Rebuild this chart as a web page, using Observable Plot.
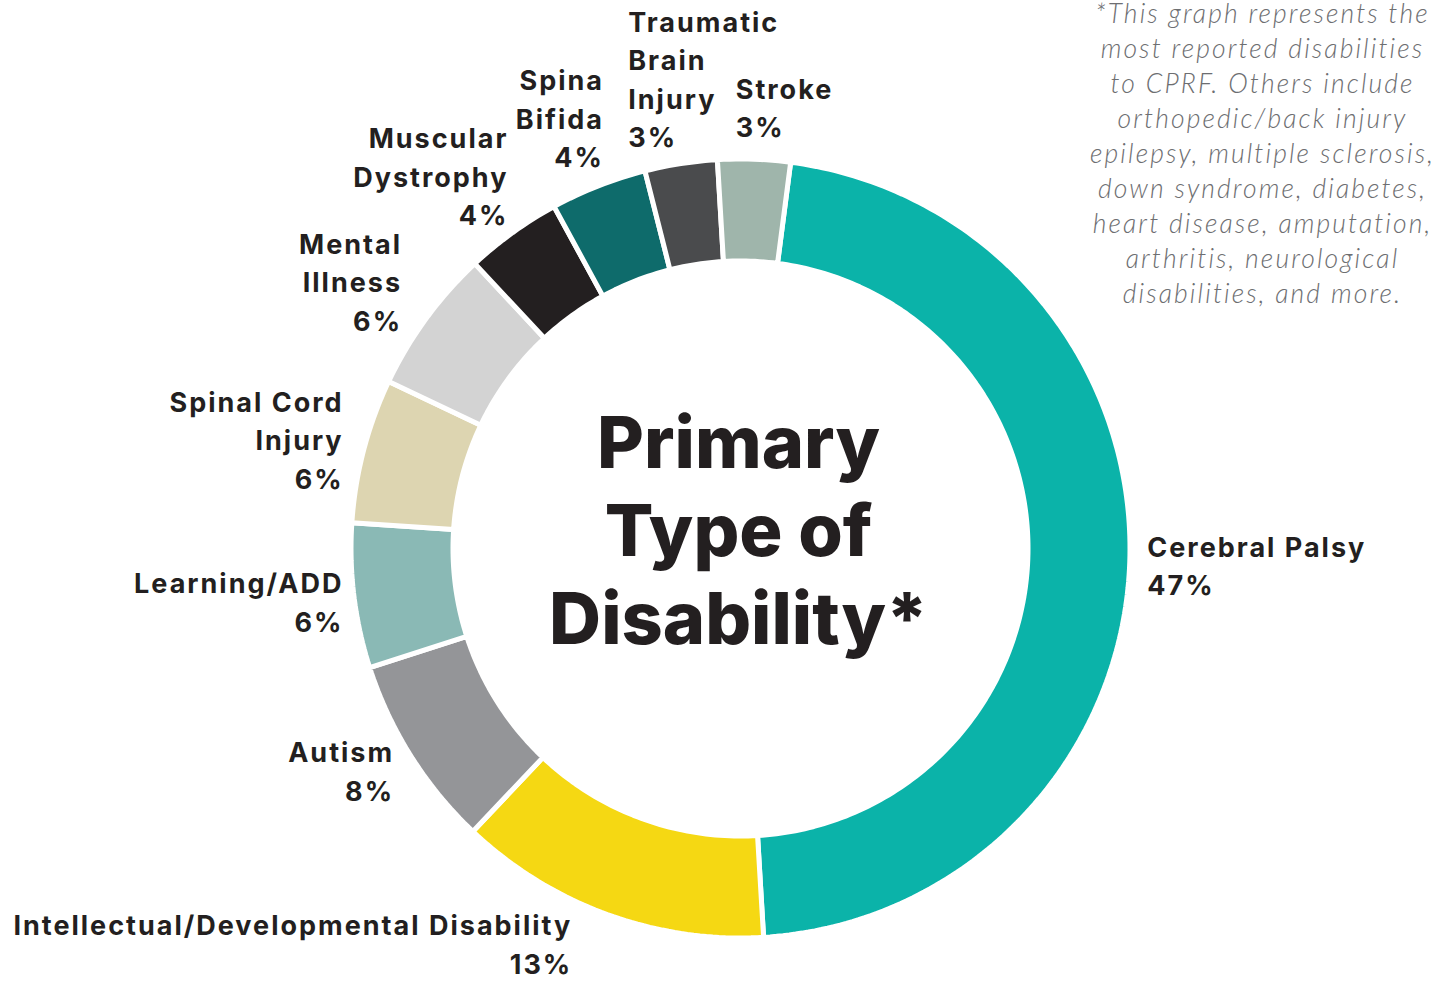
<!DOCTYPE html>
<html>
<head>
<meta charset="utf-8">
<script src="https://cdn.jsdelivr.net/npm/d3@7"></script>
<script src="https://cdn.jsdelivr.net/npm/@observablehq/plot@0.6"></script>
<style>
  html, body { margin: 0; padding: 0; background: #ffffff; }
  #chart svg { display: block; }
  #chart g[font-size="27"] { letter-spacing: 2px; }
  #chart g[font-size="26.5"] { letter-spacing: 2.1px; }
</style>
</head>
<body>
<div id="chart"></div>
<script>
// ---- data ----
const categories = ["Cerebral Palsy", "Intellectual/Developmental Disability", "Autism", "Learning/ADD", "Spinal Cord Injury", "Mental Illness", "Muscular Dystrophy", "Spina Bifida", "Traumatic Brain Injury", "Stroke"];
const labelLines = ["Cerebral Palsy", "Intellectual/Developmental Disability", "Autism", "Learning/ADD", "Spinal Cord\nInjury", "Mental\nIllness", "Muscular\nDystrophy", "Spina\nBifida", "Traumatic\nBrain\nInjury", "Stroke"];
const percents = [47, 13, 8, 6, 6, 6, 4, 4, 3, 3];
const colors = ["#0bb3a9", "#f5d813", "#949598", "#8ab9b5", "#ddd5b1", "#d3d3d3", "#231f20", "#0e6b6b", "#4a4b4d", "#9fb5ab"];
const titleText = "Primary\nType of\nDisability*";
const noteText = "*This graph represents the\nmost reported disabilities\nto CPRF. Others include\northopedic/back injury\nepilepsy, multiple sclerosis,\ndown syndrome, diabetes,\nheart disease, amputation,\narthritis, neurological\ndisabilities, and more.";

// ---- layout ----
const W = 1434, H = 982;
const CX = 740, CY = 548, R = 387;       // pixel centre and outer radius
const gap = 5;                            // white separator width
const rOuter = 1 + (gap / 2) / R;
const rInner = 290 / R - (gap / 2) / R;
const startAngle = 7.4 * Math.PI / 180;   // clockwise from 12 o'clock
const total = d3.sum(percents);

const slices = [];
const labels = [];
let acc = startAngle;
categories.forEach((cat, i) => {
  const a0 = acc, a1 = acc + percents[i] / total * 2 * Math.PI;
  acc = a1;
  const n = Math.max(8, Math.ceil((a1 - a0) * 60));
  for (let k = 0; k <= n; k++) {
    const a = a0 + (a1 - a0) * k / n;
    slices.push({cat, x: rOuter * Math.sin(a), y: rOuter * Math.cos(a)});
  }
  for (let k = n; k >= 0; k--) {
    const a = a0 + (a1 - a0) * k / n;
    slices.push({cat, x: rInner * Math.sin(a), y: rInner * Math.cos(a)});
  }
  const am = (a0 + a1) / 2, rl = 407 / R;
  labels.push({cat, x: rl * Math.sin(am), y: rl * Math.cos(am), text: labelLines[i] + "\n" + percents[i] + "%"});
});

// per-label placement nudges (pixels)
const place = {
  "Cerebral Palsy": {anchor: "start", dx: 0, dy: 1},
  "Intellectual/Developmental Disability": {anchor: "end", dx: -29, dy: 11},
  "Autism": {anchor: "end", dx: -2, dy: 4},
  "Learning/ADD": {anchor: "end", dx: 7, dy: 2},
  "Spinal Cord Injury": {anchor: "end", dx: -3, dy: -8},
  "Mental Illness": {anchor: "end", dx: -10, dy: -28},
  "Muscular Dystrophy": {anchor: "end", dx: 6, dy: -44},
  "Spina Bifida": {anchor: "end", dx: 12, dy: -53},
  "Traumatic Brain Injury": {anchor: "start", dx: -50, dy: -69},
  "Stroke": {anchor: "start", dx: -19, dy: -36}
};

const labelFont = "Inter, 'Open Sans', sans-serif";
const labelMarks = labels.map(l => Plot.text([l], {
  x: "x", y: "y", text: "text",
  textAnchor: place[l.cat].anchor, lineAnchor: "middle",
  dx: place[l.cat].dx, dy: place[l.cat].dy,
  fontSize: 27, fontWeight: 700, lineHeight: 38.5 / 27,
  fontFamily: labelFont, fill: "#231f20"
}));

const chart = Plot.plot({
  width: W, height: H,
  margin: 0,
  x: {domain: [-CX / R, (W - CX) / R], axis: null},
  y: {domain: [-(H - CY) / R, CY / R], axis: null},
  color: {domain: categories, range: colors},
  style: {background: "#ffffff", overflow: "visible"},
  marks: [
    Plot.line(slices, {x: "x", y: "y", z: "cat", fill: "cat", stroke: "#ffffff", strokeWidth: gap, curve: "linear-closed", strokeLinejoin: "miter"}),
    ...labelMarks,
    Plot.text([{x: 0, y: 0, t: titleText}], {
      x: "x", y: "y", text: "t", dx: -2, dy: -21,
      textAnchor: "middle", lineAnchor: "middle",
      fontSize: 72, fontWeight: 800, lineHeight: 88 / 72,
      fontFamily: labelFont, fill: "#231f20"
    }),
    Plot.text([noteText], {
      frameAnchor: "top-right", textAnchor: "middle", lineAnchor: "top",
      dx: -172, dy: -2,
      fontSize: 26.5, fontWeight: 300, fontStyle: "italic", lineHeight: 35 / 26.5,
      fontFamily: "Lato, 'Open Sans', sans-serif", fill: "#6d6e71"
    })
  ]
});
document.getElementById("chart").appendChild(chart);
</script>
</body>
</html>
